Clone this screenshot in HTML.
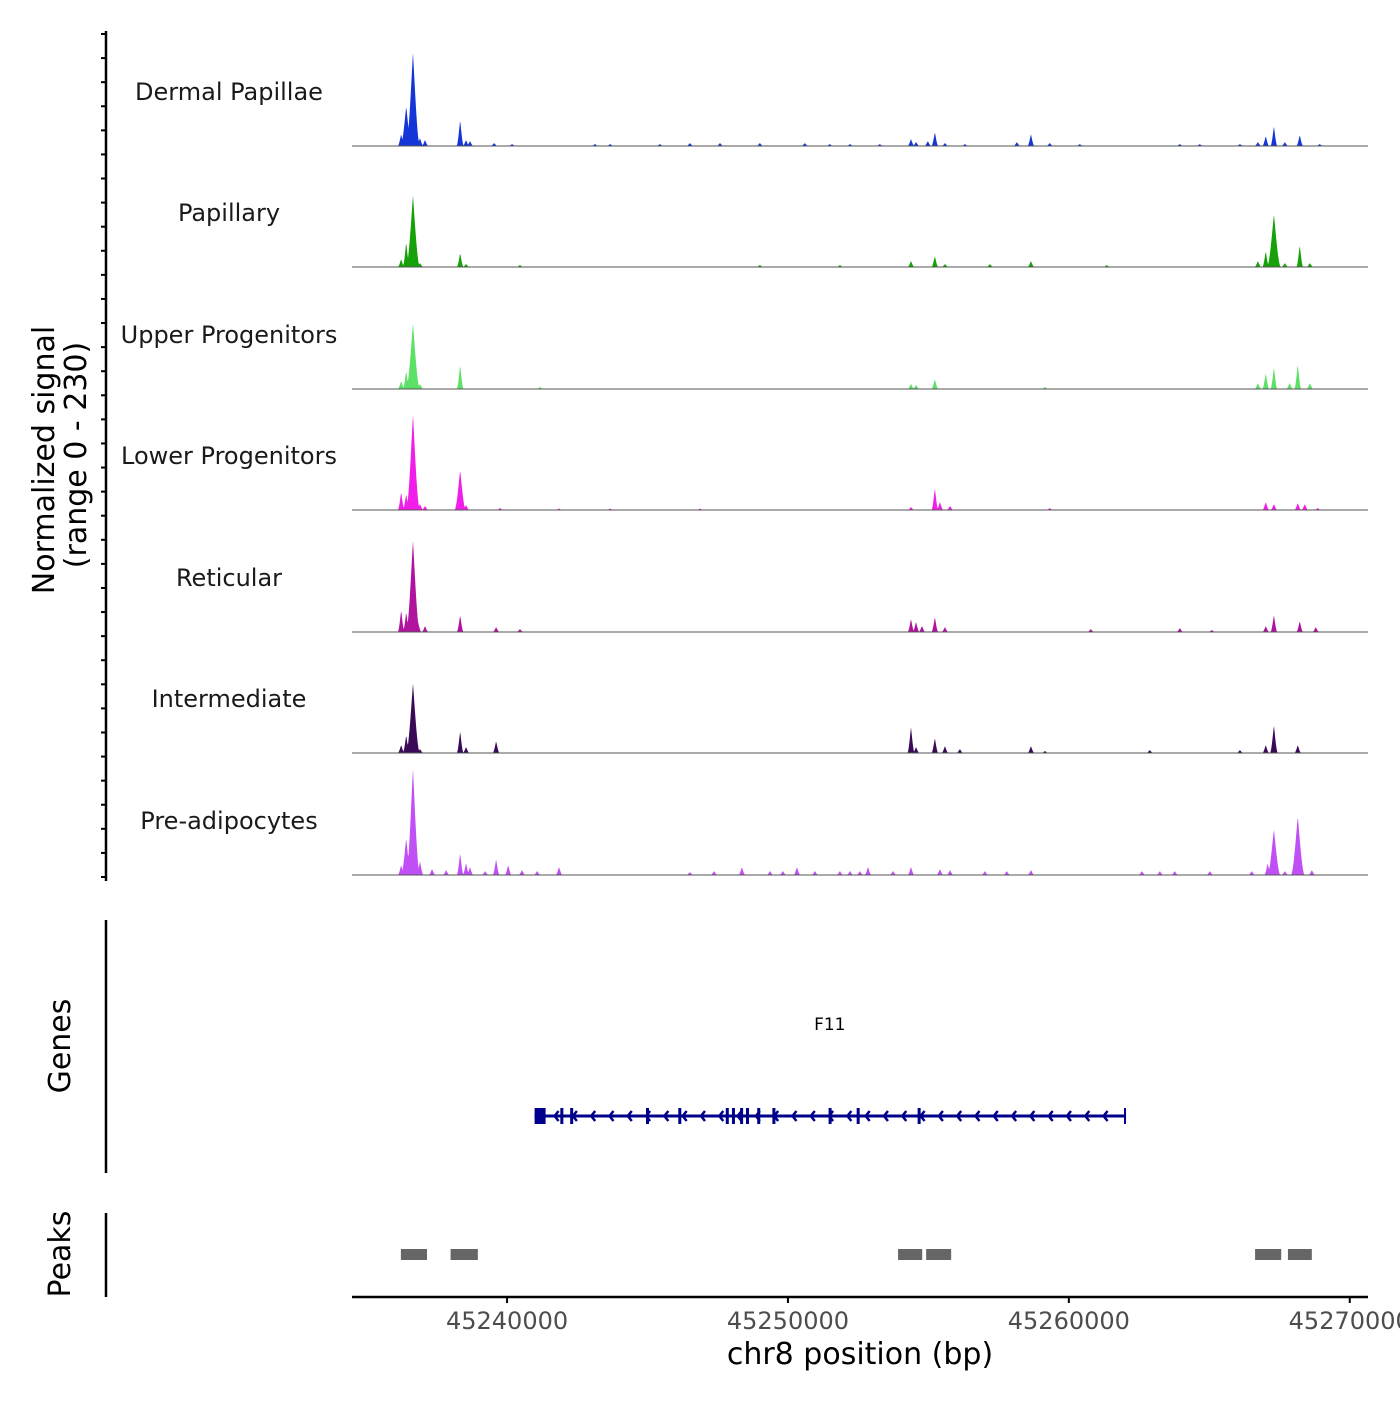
<!DOCTYPE html>
<html><head><meta charset="utf-8"><style>
body{margin:0;background:#fff}
svg text{font-family:"DejaVu Sans","Liberation Sans",sans-serif}
</style></head><body>
<svg id="c" width="1400" height="1400" viewBox="0 0 1400 1400" xmlns="http://www.w3.org/2000/svg"></svg>
<script>
// x axis domain (bp)
const xTicks=[45240000,45250000,45260000,45270000];
const xTickLabels=["45240000","45250000","45260000","45270000"];
const trackNames=["Dermal Papillae","Papillary","Upper Progenitors","Lower Progenitors","Reticular","Intermediate","Pre-adipocytes"];
const trackColors=["#1436d8","#16a10a","#5ce068","#f01ee8","#b0149e","#3a0a58","#c050f5"];
// peak positions in kb relative to 45,240,000 and signal values (0-230)
const dpPos=[-3.77,-3.59,-3.35,-3.10,-2.92,-1.67,-1.46,-1.32,-0.46,0.18,3.13,3.67,5.44,6.51,7.58,9.00,10.60,11.49,12.21,13.27,14.38,14.56,14.98,15.23,15.59,16.30,18.15,18.65,19.32,20.39,23.95,24.66,26.09,26.73,27.01,27.30,27.69,28.22,28.93];
const dpVal=[24,80,188,16,12,52,12,10,6,4,4,4,4,6,6,6,6,4,4,4,14,8,10,28,6,4,8,24,6,4,4,4,4,8,20,40,8,22,4];
const paPos=[-3.77,-3.59,-3.35,-3.10,-1.67,-1.46,0.46,9.00,11.85,14.38,15.23,15.59,17.19,18.65,21.35,26.73,27.01,27.30,27.69,28.22,28.58];
const paVal=[16,50,144,8,28,6,4,4,4,12,22,6,6,12,4,12,32,106,8,44,8];
const upPos=[-3.77,-3.59,-3.35,-3.10,-1.67,1.17,14.38,14.56,15.23,19.15,26.73,27.01,27.30,27.86,28.15,28.58];
const upVal=[16,36,132,10,48,4,10,8,20,4,12,32,44,12,50,12];
const loPos=[-3.77,-3.59,-3.35,-3.10,-2.92,-1.67,-1.46,-0.25,1.85,3.67,6.87,14.38,15.23,15.41,15.77,19.32,27.01,27.30,28.15,28.40,28.86];
const loVal=[36,32,192,12,8,80,10,4,3,3,3,6,44,16,8,4,16,12,14,12,4];
const rePos=[-3.77,-3.59,-3.35,-3.17,-2.92,-1.67,-0.39,0.46,14.38,14.56,14.77,15.23,15.59,20.78,23.95,25.09,27.01,27.30,28.22,28.79];
const reVal=[44,40,184,20,12,34,10,6,26,20,12,30,10,6,8,4,12,34,22,10];
const inPos=[-3.77,-3.59,-3.35,-3.10,-1.67,-1.46,-0.39,14.38,14.56,15.23,15.59,16.12,18.65,19.15,22.88,26.09,27.01,27.30,28.15];
const inVal=[16,36,140,8,44,12,24,52,12,30,14,8,14,4,6,6,16,56,16];
const prPos=[-3.77,-3.59,-3.35,-3.10,-2.67,-2.17,-1.67,-1.46,-1.32,-0.78,-0.39,0.04,0.53,1.07,1.85,6.51,7.37,8.36,9.36,9.82,10.32,10.96,11.85,12.21,12.56,12.85,13.74,14.38,15.41,15.77,17.01,17.79,18.65,22.60,23.24,23.77,25.02,26.51,27.08,27.30,27.69,28.15,28.65];
const prVal=[20,74,214,28,12,10,44,24,16,8,32,20,10,8,16,6,8,16,8,8,16,8,8,8,8,16,8,16,12,10,8,8,10,8,8,8,8,8,24,92,8,118,10];
const trackPos=[dpPos,paPos,upPos,loPos,rePos,inPos,prPos];
const trackVal=[dpVal,paVal,upVal,loVal,reVal,inVal,prVal];
// gene exon marks (bp)
const exonStarts=[45241150,45241950,45242300,45245000,45246150,45247840,45248060,45248350,45248560,45248960,45249500,45251500,45252500,45254670];
const geneStart=45240980, geneEnd=45262000;
const peakStarts=[45236220,45237990,45253920,45254920,45266630,45267800];
const peakEnds=[45237150,45238960,45254780,45255810,45267560,45268650];

const svg=document.getElementById('c');
const NS='http://www.w3.org/2000/svg';
function el(t,a,p){const e=document.createElementNS(NS,t);for(const k in a)e.setAttribute(k,a[k]);(p||svg).appendChild(e);return e;}
const X0=352,X1=1368,B0=45234480,B1=45270650;
const xs=bp=>X0+(bp-B0)/(B1-B0)*(X1-X0);
const baselines=[146,267,389,510,632,753,875];
const ys=(v,b)=>b-v*0.5;

// y axis
let a=el('line',{x1:106,y1:31,x2:106,y2:881,stroke:'#000','stroke-width':2.5});

for(let i=0;i<36;i++){const y=34+i*(877-34)/35;const t=el('line',{x1:101,x2:106,y1:y,y2:y,stroke:'#000','stroke-width':2});
}
let t=el('text',{x:0,y:0,'font-size':30,'text-anchor':'middle',transform:'translate(54,460) rotate(-90)'});t.textContent='Normalized signal';

t=el('text',{x:0,y:0,'font-size':30,'text-anchor':'middle',transform:'translate(86,455) rotate(-90)'});t.textContent='(range 0 - 230)';


trackNames.forEach((n,i)=>{
 const b=baselines[i];
 const g=el('g',{});
 const lab=el('text',{x:229,y:b-46,'font-size':24,'text-anchor':'middle',fill:'#1a1a1a'},g);lab.textContent=n;
 
 const P=trackPos[i],V=trackVal[i];
 let d='M'+X0+','+b;
 for(let x=X0;x<=X1;x+=0.5){
  let s=0;
  for(let k=0;k<P.length;k++){const px=xs(45240000+P[k]*1000);const w=Math.max(3.5,Math.min(7,V[k]/14));const dd=Math.abs(x-px);if(dd<w){const f=1-dd/w;const v=V[k]*f*f*(1.6-0.6*f);if(v>s)s=v;}}
  d+='L'+x+','+ys(s,b);
 }
 d+='L'+X1+','+b+'Z';
 const p=el('path',{d:d,fill:trackColors[i]},g);
 
 const bl=el('line',{x1:X0,x2:X1,y1:b,y2:b,stroke:'#555','stroke-width':1},g);
 
});

// genes
a=el('line',{x1:106,y1:920,x2:106,y2:1173,stroke:'#000','stroke-width':2.5});
t=el('text',{x:0,y:0,'font-size':30,'text-anchor':'middle',transform:'translate(70,1046) rotate(-90)'});t.textContent='Genes';

const gg=el('g',{});
const gl=el('text',{x:(xs(geneStart)+xs(geneEnd))/2,y:1030,'font-size':17,'text-anchor':'middle'},gg);gl.textContent='F11';

const gx0=xs(geneStart),gx1=xs(geneEnd),GY=1116,C='#00008b';
el('line',{x1:gx0,x2:gx1,y1:GY,y2:GY,stroke:C,'stroke-width':3},gg);
el('rect',{x:gx0,y:GY-8,width:11,height:16,fill:C},gg);
el('line',{x1:gx1,x2:gx1,y1:GY-8,y2:GY+8,stroke:C,'stroke-width':2},gg);
exonStarts.forEach(e=>{const x=xs(e);const r=el('rect',{x:x-1.5,y:GY-8,width:3,height:16,fill:C},gg);
 });
for(let x=gx0+20;x<gx1-5;x+=18.3){el('polyline',{points:(x+4)+','+(GY-5)+' '+x+','+GY+' '+(x+4)+','+(GY+5),fill:'none',stroke:C,'stroke-width':2.5},gg);}

// peaks
a=el('line',{x1:106,y1:1213,x2:106,y2:1297,stroke:'#000','stroke-width':2.5});
t=el('text',{x:0,y:0,'font-size':30,'text-anchor':'middle',transform:'translate(70,1254) rotate(-90)'});t.textContent='Peaks';

peakStarts.forEach((s,i)=>{const r=el('rect',{x:xs(s),y:1249,width:xs(peakEnds[i])-xs(s),height:11,fill:'#666'});
 });

// x axis
a=el('line',{x1:X0,x2:X1,y1:1297,y2:1297,stroke:'#000','stroke-width':2.5});
xTicks.forEach((v,i)=>{const x=xs(v);const tk=el('line',{x1:x,x2:x,y1:1297,y2:1303,stroke:'#000','stroke-width':2});
 
 const l=el('text',{x:x,y:1329,'font-size':24,'text-anchor':'middle',fill:'#4d4d4d'});l.textContent=xTickLabels[i];
 });
t=el('text',{x:860,y:1364,'font-size':30,'text-anchor':'middle'});t.textContent='chr8 position (bp)';

</script>
</body></html>
